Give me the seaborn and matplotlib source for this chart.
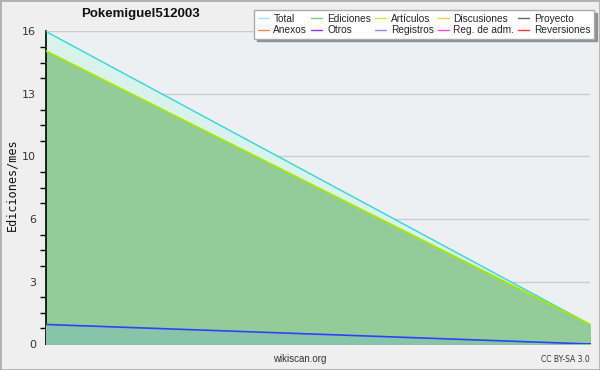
import matplotlib
matplotlib.use("Agg")
import matplotlib.pyplot as plt
from matplotlib.lines import Line2D
from matplotlib.patches import Rectangle
import seaborn as sns
import pandas as pd

# datos: dos meses
meses = [0, 1]
total = [16, 1]
ediciones = [15, 1]
articulos = [15, 1]
registros = [1, 0]

leyenda = ["Total", "Ediciones", "Artículos", "Discusiones", "Proyecto",
           "Anexos", "Otros", "Registros", "Reg. de adm.", "Reversiones"]
colores_leyenda = ["#a8e8e8", "#80cc80", "#c8ee40", "#ffcc33", "#666666",
                   "#ff8844", "#9933ee", "#8888ff", "#ee44ee", "#ff3333"]

df = pd.DataFrame({"mes": meses, "total": total, "ediciones": ediciones,
                   "articulos": articulos, "registros": registros})

sns.set_style("white")
plt.rcParams["font.family"] = ["DejaVu Sans"]

fig = plt.figure(figsize=(6, 3.7), dpi=100, facecolor="#efefef")
ax = fig.add_axes([46 / 600, 26 / 370, 544 / 600, 312.5 / 370])
ax.set_facecolor("#eeeff2")

# rellenos
ax.fill_between(df["mes"], df["total"], color="#d8f2ec", zorder=1)
ax.fill_between(df["mes"], df["ediciones"], color="#92cc98", zorder=2)
ax.fill_between(df["mes"], df["registros"], color="#88c4a8", zorder=3)

# líneas
sns.lineplot(data=df, x="mes", y="total", color="#30d8d8", lw=1, ax=ax, zorder=4)
sns.lineplot(data=df, x="mes", y="articulos", color="#a8e800", lw=1.3, ax=ax, zorder=5)
sns.lineplot(data=df, x="mes", y="registros", color="#3040ff", lw=1.2, ax=ax, zorder=5)

ax.set_xlim(0, 1)
ax.set_ylim(0, 16)
mayores = [0, 3.2, 6.4, 9.6, 12.8, 16]
ax.set_yticks(mayores)
ax.set_yticklabels([str(round(v)) for v in mayores], fontsize=8, color="#333333")
ax.set_yticks([i * 0.8 for i in range(21)], minor=True)
ax.set_xticks([0, 1])
ax.set_xticklabels(["", ""])
ax.tick_params(axis="y", which="major", length=6, width=1, color="black", direction="out", pad=1)
ax.tick_params(axis="y", which="minor", length=4, width=1, color="black", direction="out", left=True)
ax.tick_params(axis="x", length=5, width=1, color="black", direction="out")
ax.yaxis.grid(True, which="major", color="#cccccc", lw=1, zorder=0)
ax.set_axisbelow(True)
for s in ["top", "right"]:
    ax.spines[s].set_visible(False)
for s in ["left", "bottom"]:
    ax.spines[s].set_color("black")
    ax.spines[s].set_linewidth(1.2)
ax.set_xlabel("")
ax.set_ylabel("")

fig.text(12 / 600, 1 - 185 / 370, "Ediciones/mes", rotation=90, ha="center", va="center",
         fontsize=8.5, family="DejaVu Sans Mono", color="#111111")
fig.text(140 / 600, 1 - 14 / 370, "Pokemiguel512003", ha="center", va="center",
         fontsize=9.5, fontweight="bold", family="Liberation Sans", color="#111111")
fig.text(300 / 600, 1 - 359 / 370, "wikiscan.org", ha="center", va="center",
         fontsize=7, family="Liberation Sans", color="#333333")
fig.text(590 / 600, 1 - 359 / 370, "CC BY-SA 3.0", ha="right", va="center",
         fontsize=5.5, color="#333333")

# leyenda (relleno por columnas)
handles = [Line2D([], [], color=c, lw=1) for c in colores_leyenda]
orden = [0, 5, 1, 6, 2, 7, 3, 8, 4, 9]
leg = fig.legend([handles[i] for i in orden], [leyenda[i] for i in orden], ncol=5,
                 loc="upper right", bbox_to_anchor=(594 / 600, 1 - 10 / 370),
                 prop={"family": "Liberation Sans", "size": 7.3}, frameon=True,
                 fancybox=False, shadow={"color": "#909090", "alpha": 1},
                 handlelength=1.1, handletextpad=0.45, columnspacing=0.4,
                 labelspacing=0.15, borderpad=0.35, borderaxespad=0)
leg.get_frame().set_edgecolor("#aaaaaa")
leg.get_frame().set_linewidth(1)

fig.patches.append(Rectangle((0, 0), 1, 1, transform=fig.transFigure, fill=False,
                             edgecolor="#b0b0b0", lw=2))

fig.savefig("out.png", dpi=100, facecolor=fig.get_facecolor())
